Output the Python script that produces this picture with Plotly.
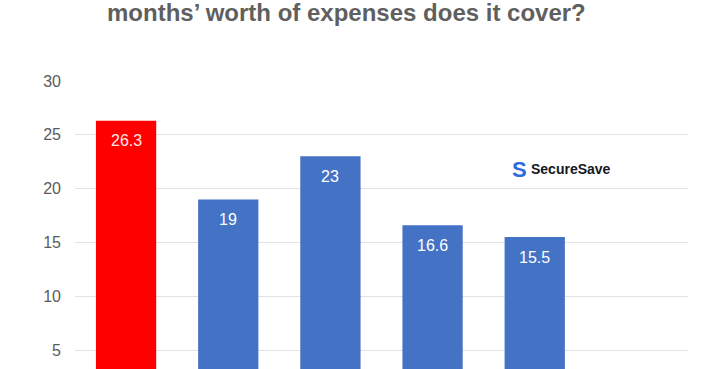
import plotly.graph_objects as go

categories = ["A", "B", "C", "D", "E", "F"]
values = [26.3, 19, 23, 16.6, 15.5, None]
bar_colors = ["#ff0000", "#4472c4", "#4472c4", "#4472c4", "#4472c4", "#4472c4"]
label_colors = ["#ffe8e8", "#ffffff", "#ffffff", "#ffffff", "#ffffff", "#ffffff"]
y_ticks = [5, 10, 15, 20, 25, 30]
title_text = "months’ worth of expenses does it cover?"

fig = go.Figure()
fig.add_trace(go.Bar(
    x=categories, y=values,
    marker=dict(color=bar_colors, line=dict(width=0)),
    hoverinfo="skip",
))

annotations = []
for c, v, lc in zip(categories, values, label_colors):
    if v is None:
        continue
    annotations.append(dict(
        x=c, y=v, xref="x", yref="y", text=f"{v:g}", showarrow=False,
        yanchor="middle", yshift=-20,
        font=dict(family="Liberation Sans, Arial", size=16, color=lc),
    ))

annotations.append(dict(
    x=(346 - 75) / 613, y=(369 - 13) / 288, xref="paper", yref="paper", text=f"<b>{title_text}</b>",
    showarrow=False, xanchor="center", yanchor="middle",
    font=dict(family="Liberation Sans, Arial", size=24, color="#5f5f5f"),
))
# logo
annotations.append(dict(
    x=(510 - 75) / 613, y=(369 - 169) / 288, xref="paper", yref="paper",
    text="<b>S</b>", showarrow=False, xanchor="left", yanchor="middle",
    font=dict(family="Liberation Sans, Arial", size=22, color="#2f6ae0"),
))
annotations.append(dict(
    x=(529 - 75) / 613, y=(369 - 169) / 288, xref="paper", yref="paper",
    text="<b>SecureSave</b>", showarrow=False, xanchor="left", yanchor="middle",
    font=dict(family="Liberation Sans, Arial", size=14, color="#15171f"),
))

fig.update_layout(
    width=704, height=369,
    margin=dict(l=75, r=16, t=81, b=0, pad=0),
    paper_bgcolor="white", plot_bgcolor="white",
    bargap=0.41,
    showlegend=False,
    annotations=annotations,
    font=dict(family="Liberation Sans, Arial"),
)
fig.update_xaxes(showticklabels=False, showgrid=False, zeroline=False, showline=False)
fig.update_yaxes(
    range=[3.24, 30], tickvals=y_ticks, showgrid=True, gridcolor="#e2e2e2", gridwidth=1.2,
    zeroline=False, showline=False, ticks="", ticklabelstandoff=13,
    tickfont=dict(family="Liberation Sans, Arial", size=16, color="#5a5a5a"),
)

fig.write_html("out.html")
